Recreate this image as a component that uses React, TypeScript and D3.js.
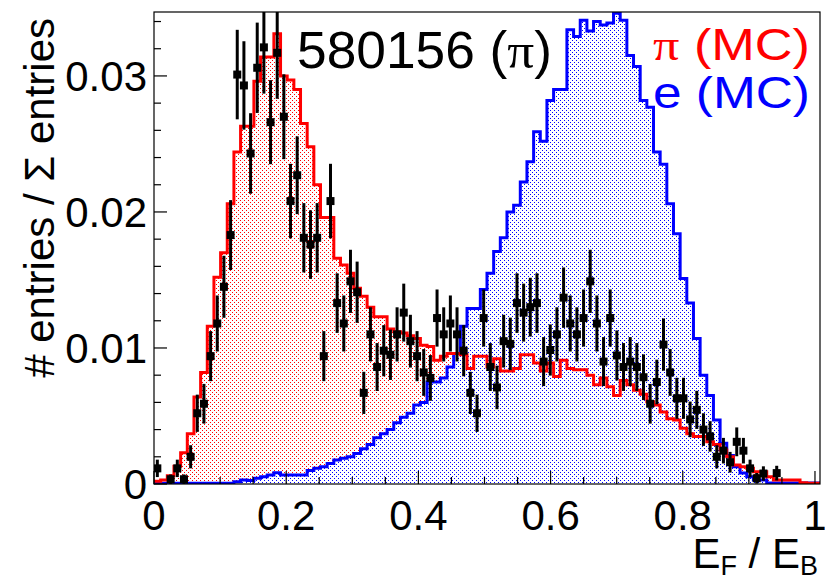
import React from "react";
import * as d3 from "d3";

// ---------- data (values in units of 1e-3 of total entries) ----------
const N_BINS = 100;
const X_MAX = 1.0076;
const Y_MAX = 0.0347;
const UNIT = 1e-3;

const PI_MC = [
  0.2, 0.3, 0.6, 1.3, 2.3, 3.7, 6.4, 8.2, 11.6, 15.2,
  17.0, 20.6, 24.4, 26.3, 26.3, 29.6, 31.4, 31.4, 33.1, 30.0,
  29.7, 29.0, 26.5, 24.8, 22.0, 19.6, 19.6, 16.6, 16.1, 15.5,
  14.4, 13.8, 13.0, 12.3, 12.3, 11.4, 11.2, 11.1, 10.9, 10.7,
  10.2, 10.1, 9.1, 9.4, 9.6, 9.6, 9.5, 8.5, 9.4, 9.4,
  8.6, 9.2, 8.3, 8.3, 8.5, 9.5, 9.5, 8.9, 8.3, 8.9,
  7.9, 9.1, 8.5, 8.4, 8.4, 8.0, 7.3, 7.8, 7.15, 6.5,
  7.6, 7.3, 6.9, 6.6, 6.05, 5.8, 5.3, 4.8, 4.7, 4.1,
  3.7, 3.5, 3.5, 3.1, 2.9, 2.5, 2.0, 1.4, 1.27, 1.15,
  0.9, 0.9, 0.54, 0.3, 0.3, 0.3, 0.3, 0.1, 0.05, 0.05,
];

const E_MC = [
  0.05, 0.05, 0.05, 0.05, 0.05, 0.05, 0.05, 0.05, 0.05, 0.05,
  0.05, 0.05, 0.17, 0.3, 0.25, 0.42, 0.54, 0.66, 0.83, 0.66,
  0.66, 0.66, 0.66, 1.0, 1.15, 1.27, 1.5, 1.76, 1.9, 2.0,
  2.25, 2.6, 2.9, 3.4, 3.7, 4.0, 4.5, 4.9, 5.2, 5.8,
  6.0, 7.5, 7.5, 7.8, 8.6, 9.6, 11.6, 12.9, 12.9, 14.3,
  15.5, 17.1, 18.1, 20.0, 20.5, 22.2, 23.7, 25.9, 25.2, 28.2,
  29.0, 29.0, 33.4, 32.9, 34.1, 33.3, 34.0, 33.75, 33.9, 34.6,
  34.1, 31.5, 30.7, 28.2, 27.7, 24.4, 23.5, 20.6, 18.4, 15.1,
  13.3, 10.7, 8.0, 6.5, 4.7, 3.0, 2.1, 1.27, 0.8, 0.54,
  0.3, 0.3, 0.08, 0.08, 0.08, 0.08, 0.08, 0.08, 0.08, 0.08,
];

const DATA_BINS = [
  0, 2, 3, 4, 5, 6, 7, 8, 9, 10, 11, 12, 13, 14, 15, 16, 17, 18, 19, 20,
  21, 22, 23, 24, 25, 26, 27, 28, 29, 30, 31, 32, 33, 34, 35, 36, 37, 38, 39, 40,
  41, 42, 43, 44, 45, 46, 47, 48, 49, 50, 51, 52, 53, 54, 55, 56, 57, 58, 59, 60,
  61, 62, 63, 64, 65, 66, 67, 68, 69, 70, 71, 72, 73, 74, 75, 76, 77, 78, 79, 80,
  81, 82, 83, 84, 85, 86, 87, 88, 89, 90, 91, 93,
];

const DATA_VALS = [
  1.15, 0.35, 1.15, 0.35, 2.0, 5.2, 5.9, 9.4, 11.8, 14.5, 18.3, 30.1, 29.3, 24.3, 30.6, 32.1, 26.6, 31.7, 27.0, 20.8,
  22.7, 18.1, 17.6, 18.1, 9.4, 20.8, 13.3, 11.8, 14.9, 14.1, 6.7, 11.0, 8.6, 9.8, 9.5, 11.0, 12.6, 10.5, 9.4, 8.2,
  7.8, 12.2, 11.0, 11.8, 11.0, 9.8, 6.7, 5.2, 12.2, 8.6, 7.1, 10.5, 10.3, 13.3, 12.6, 13.0, 13.3, 9.0, 9.85, 11.0,
  13.7, 11.8, 11.0, 12.2, 14.9, 11.8, 9.0, 12.2, 9.45, 8.6, 9.0, 8.6, 7.85, 5.9, 7.5, 10.25, 8.2, 6.3, 6.3, 4.75,
  5.45, 4.0, 3.5, 2.0, 2.45, 1.6, 3.1, 2.45, 1.15, 0.42, 0.77, 0.8,
];

const DATA_ERRS = [
  0.64, 0.35, 0.64, 0.35, 0.85, 1.37, 1.46, 1.84, 2.06, 2.28, 2.57, 3.29, 3.25, 2.96, 3.32, 3.4, 3.09, 3.38, 3.12, 2.74,
  2.86, 2.55, 2.52, 2.55, 1.84, 2.74, 2.19, 2.06, 2.32, 2.25, 1.55, 1.99, 1.76, 1.88, 1.85, 1.99, 2.13, 1.94, 1.84, 1.72,
  1.68, 2.1, 1.99, 2.06, 1.99, 1.88, 1.55, 1.37, 2.1, 1.76, 1.6, 1.94, 1.93, 2.19, 2.13, 2.16, 2.19, 1.8, 1.88, 1.99,
  2.22, 2.06, 1.99, 2.1, 2.32, 2.06, 1.8, 2.1, 1.84, 1.76, 1.8, 1.76, 1.68, 1.46, 1.64, 1.92, 1.72, 1.51, 1.51, 1.31,
  1.4, 1.2, 1.12, 0.85, 0.94, 0.76, 1.06, 0.94, 0.64, 0.39, 0.53, 0.54,
];

const X_MAJOR_TICKS = [0, 0.2, 0.4, 0.6, 0.8, 1];
const X_TICK_LABELS = ["0", "0.2", "0.4", "0.6", "0.8", "1"];
const X_MINOR_TICKS = [0.05, 0.1, 0.15, 0.25, 0.3, 0.35, 0.45, 0.5, 0.55, 0.65, 0.7, 0.75, 0.85, 0.9, 0.95];
const Y_MAJOR_TICKS = [0, 0.01, 0.02, 0.03];
const Y_TICK_LABELS = ["0", "0.01", "0.02", "0.03"];
const Y_MINOR_TICKS = [0.002, 0.004, 0.006, 0.008, 0.012, 0.014, 0.016, 0.018, 0.022, 0.024, 0.026, 0.028, 0.032, 0.034];

const LEGEND = [
  { sym: "π", text: " (MC)", color: "#ff0000" },
  { sym: "e", text: " (MC)", color: "#0000ff" },
];

const FONT = "'Liberation Sans', Arial, Helvetica, sans-serif";
const SYMFONT = "'Liberation Serif', 'DejaVu Serif', serif";

export default function App() {
  const L = 154, R = 820, T = 12, B = 484;
  const x = d3.scaleLinear().domain([0, X_MAX]).range([L, R]);
  const y = d3.scaleLinear().domain([0, Y_MAX]).range([B, T]);
  const binW = X_MAX / N_BINS;

  const stepPts = (vals: number[]) => {
    const pts: [number, number][] = [];
    vals.forEach((v, i) => {
      pts.push([i * binW, v * UNIT]);
      pts.push([(i + 1) * binW, v * UNIT]);
    });
    return pts;
  };
  const line = d3
    .line<[number, number]>()
    .x((d) => x(d[0]))
    .y((d) => y(d[1]));
  const area = d3
    .area<[number, number]>()
    .x((d) => x(d[0]))
    .y0(y(0))
    .y1((d) => y(d[1]));

  const piPts = stepPts(PI_MC);
  const ePts = stepPts(E_MC);

  return (
    <svg width={825} height={584} style={{ display: "block", position: "absolute", left: 0, top: 0, background: "#fff" }}>
      <defs>
        <pattern id="redDots" width="4" height="4" patternUnits="userSpaceOnUse">
          <rect x="0" y="0" width="1" height="1" fill="#ff0000" />
          <rect x="2" y="2" width="1" height="1" fill="#ff0000" />
        </pattern>
        <pattern id="blueDots" width="4" height="4" patternUnits="userSpaceOnUse">
          <rect x="0" y="0" width="1" height="1" fill="#0000ff" />
          <rect x="2" y="2" width="1" height="1" fill="#0000ff" />
        </pattern>
        <clipPath id="frameClip">
          <rect x={L} y={T} width={R - L} height={B - T} />
        </clipPath>
      </defs>
      <rect x={0} y={0} width={825} height={584} fill="#fff" />

      <g clipPath="url(#frameClip)">
        <path d={area(piPts) || ""} fill="url(#redDots)" shapeRendering="crispEdges" />
        <path d={area(ePts) || ""} fill="url(#blueDots)" shapeRendering="crispEdges" />
        <path d={line(ePts) || ""} fill="none" stroke="#0000ff" strokeWidth={3} />
        <path d={line(piPts) || ""} fill="none" stroke="#ff0000" strokeWidth={3} />
        {DATA_BINS.map((b, i) => {
          const cx = x((b + 0.5) * binW);
          const v = DATA_VALS[i] * UNIT;
          const e = DATA_ERRS[i] * UNIT;
          return (
            <g key={i}>
              <line x1={cx} x2={cx} y1={y(v - e)} y2={y(v + e)} stroke="#000" strokeWidth={3} />
              <rect x={cx - 4} y={y(v) - 4} width={8} height={8} fill="#000" />
            </g>
          );
        })}
      </g>

      {/* frame */}
      <rect x={L} y={T} width={R - L} height={B - T} fill="none" stroke="#000" strokeWidth={1.2} />

      {/* x ticks */}
      {X_MAJOR_TICKS.map((t) => (
        <line key={"xM" + t} x1={x(t)} x2={x(t)} y1={B} y2={B - 13} stroke="#000" strokeWidth={1.2} />
      ))}
      {X_MINOR_TICKS.map((t) => (
        <line key={"xm" + t} x1={x(t)} x2={x(t)} y1={B} y2={B - 7} stroke="#000" strokeWidth={1.2} />
      ))}
      {X_MAJOR_TICKS.map((t, i) => (
        <text key={"xl" + t} x={x(t)} y={530} textAnchor="middle" fontFamily={FONT} fontSize={42} fill="#000">
          {X_TICK_LABELS[i]}
        </text>
      ))}

      {/* y ticks */}
      {Y_MAJOR_TICKS.map((t) => (
        <line key={"yM" + t} x1={L} x2={L + 13} y1={y(t)} y2={y(t)} stroke="#000" strokeWidth={1.2} />
      ))}
      {Y_MINOR_TICKS.map((t) => (
        <line key={"ym" + t} x1={L} x2={L + 7} y1={y(t)} y2={y(t)} stroke="#000" strokeWidth={1.2} />
      ))}
      {Y_MAJOR_TICKS.map((t, i) => (
        <text key={"yl" + t} x={147} y={y(t) + 15} textAnchor="end" fontFamily={FONT} fontSize={42} fill="#000">
          {Y_TICK_LABELS[i]}
        </text>
      ))}

      {/* axis titles */}
      <text
        transform="translate(54,18) rotate(-90)"
        textAnchor="end"
        fontFamily={FONT}
        fontSize={42}
        fill="#000"
      >
        # entries / Σ entries
      </text>
      <text x={818} y={568} textAnchor="end" fontFamily={FONT} fontSize={42} fill="#000">
        E<tspan fontSize={27} dy={7}>F</tspan>
        <tspan dy={-7}> / E</tspan>
        <tspan fontSize={27} dy={7}>B</tspan>
      </text>

      {/* run label */}
      <text x={297} y={68} fontFamily={FONT} fontSize={51} fill="#000" textLength={255} lengthAdjust="spacingAndGlyphs">
        580156 (<tspan fontFamily={SYMFONT}>π</tspan>)
      </text>

      {/* legend */}
      {LEGEND.map((l, i) => (
        <text
          key={l.sym}
          x={653}
          y={60 + i * 48}
          fontFamily={FONT}
          fontSize={44}
          fill={l.color}
          textLength={157}
          lengthAdjust="spacingAndGlyphs"
        >
          <tspan fontFamily={l.sym === "π" ? SYMFONT : FONT}>{l.sym}</tspan>
          {l.text}
        </text>
      ))}
    </svg>
  );
}
